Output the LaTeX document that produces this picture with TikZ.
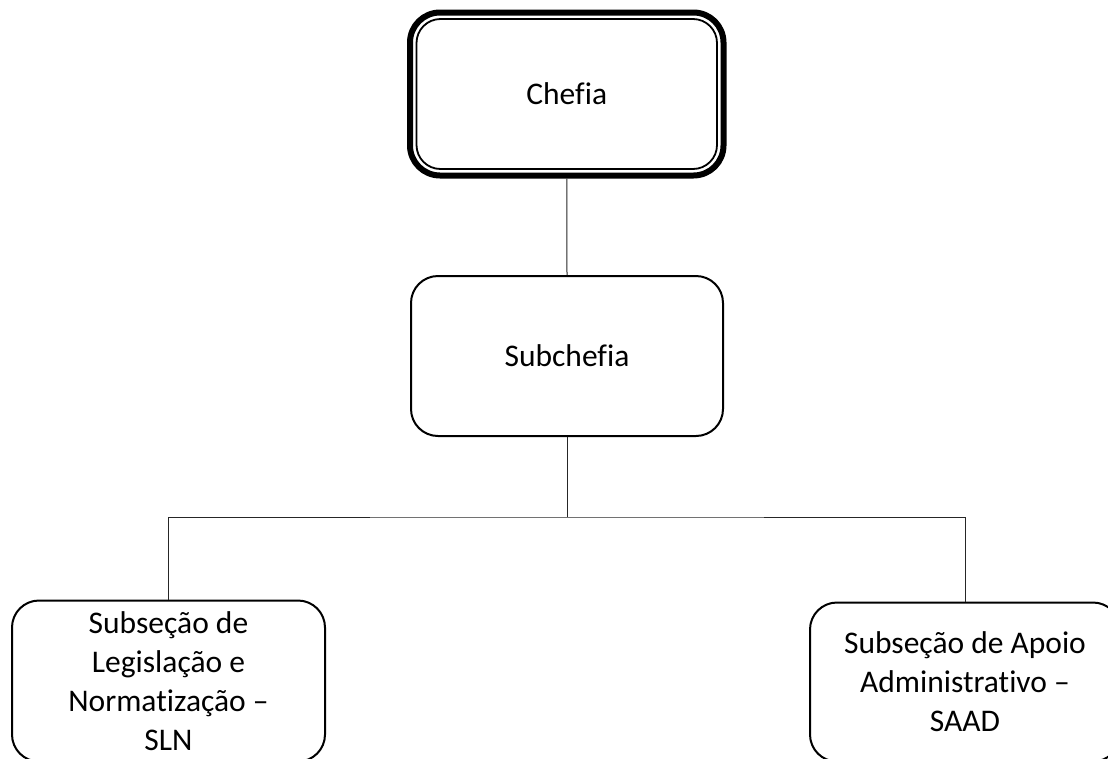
\documentclass[tikz,border=0pt]{standalone}
\usepackage{fontspec}
\setmainfont{Carlito}[Ligatures=NoCommon]
\usepackage{tikz}
\tikzstyle{caixa}=[draw, line width=2pt, rounded corners=27pt, align=center, font=\fontsize{31.5}{39}\selectfont]
\tikzstyle{ligacao}=[draw, black!85, line width=1pt]

\begin{document}
\begin{tikzpicture}[x=1pt, y=-1pt]
\useasboundingbox (0,0) rectangle (1108,758);
% Boxes
    \node[caixa, line width=6pt, rounded corners=30pt, minimum width=313.5pt, minimum height=163pt] (chefia) at (566.75,94) {Chefia};
    \draw[line width=1.8pt, rounded corners=24pt] ([shift={(9.5,9.5)}]chefia.north west) rectangle ([shift={(-9.5,-9.5)}]chefia.south east);
    \node[caixa, minimum width=312pt, minimum height=160pt] (subchefia) at (567,356) {Subchefia};
    \node[caixa, minimum width=313pt, minimum height=161pt] (sln) at (168.5,681) {Subseção de\\Legislação e\\Normatização –\\SLN};
    \node[caixa, minimum width=310pt, minimum height=159pt] (saad) at (965,682) {Subseção de Apoio\\Administrativo –\\SAAD};
% Connectors
    \coordinate (juncao) at (567,517);
    \draw[ligacao] (chefia.south) -- (subchefia.north);
    \draw[ligacao] (subchefia.south) -- (juncao);
    \draw[ligacao] (sln.north) |- (juncao) -| (saad.north);
\end{tikzpicture}
\end{document}
